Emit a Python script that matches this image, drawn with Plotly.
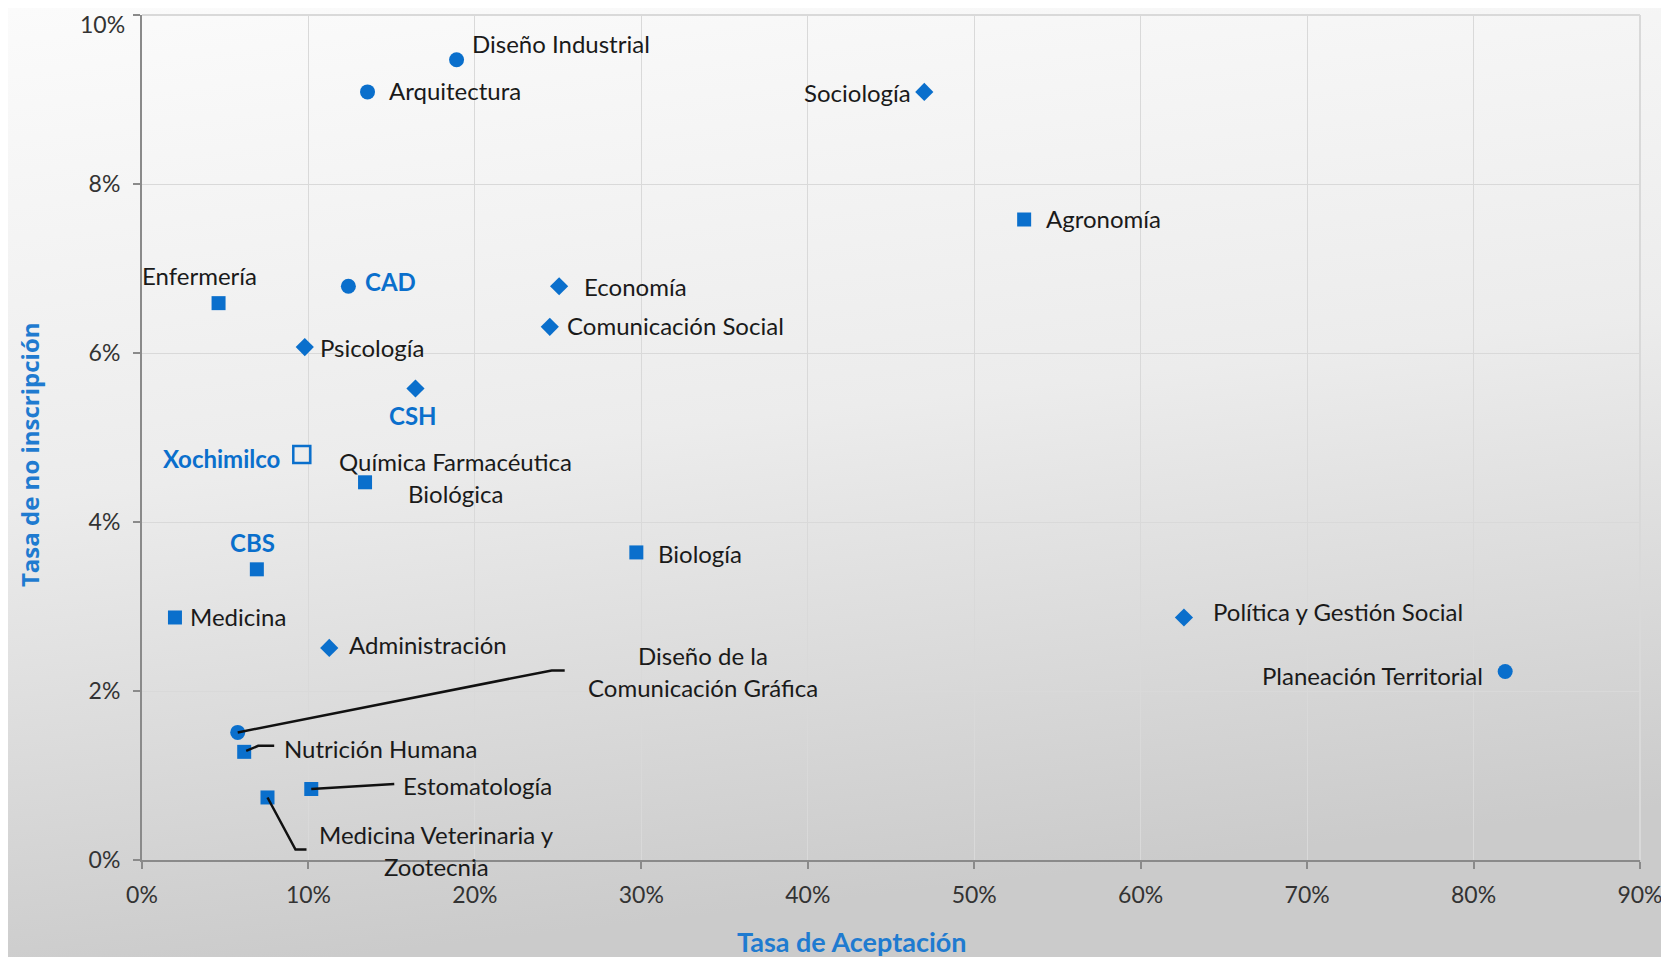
import base64
import plotly.graph_objects as go

# Datos (Tasa de Aceptación vs Tasa de no inscripción)
carreras = [
    "Diseño Industrial", "Arquitectura", "CAD", "Diseño de la Comunicación Gráfica",
    "Planeación Territorial",
    "Sociología", "Economía", "Comunicación Social", "Psicología", "CSH",
    "Administración", "Política y Gestión Social",
    "Agronomía", "Enfermería", "Química Farmacéutica Biológica", "Biología", "CBS",
    "Medicina", "Nutrición Humana", "Estomatología", "Medicina Veterinaria y Zootecnia",
    "Xochimilco",
]
tasa_aceptacion = [
    0.189, 0.1355, 0.124, 0.0575, 0.819,
    0.470, 0.2506, 0.245, 0.0978, 0.1643, 0.1125, 0.626,
    0.530, 0.046, 0.134, 0.297, 0.069, 0.0198, 0.0614, 0.1017, 0.0754,
    0.096,
]
tasa_no_inscripcion = [
    0.0947, 0.0909, 0.0679, 0.0151, 0.0223,
    0.0909, 0.0679, 0.0631, 0.0607, 0.0558, 0.0251, 0.0287,
    0.0758, 0.0659, 0.0447, 0.0364, 0.0344, 0.0287, 0.0128, 0.0084, 0.0074,
    0.0480,
]
division = [
    "CAD", "CAD", "CAD", "CAD", "CAD",
    "CSH", "CSH", "CSH", "CSH", "CSH", "CSH", "CSH",
    "CBS", "CBS", "CBS", "CBS", "CBS", "CBS", "CBS", "CBS", "CBS",
    "UNIDAD",
]
resaltadas = ["CAD", "CSH", "CBS", "Xochimilco"]
ticks_x = [0, 0.1, 0.2, 0.3, 0.4, 0.5, 0.6, 0.7, 0.8, 0.9]
ticks_y = [0, 0.02, 0.04, 0.06, 0.08, 0.1]
etiquetas_y = ["0%", "2%", "4%", "6%", "8%", "10%"]

AZUL = "#0A6FCC"
GRID = "#d9d9d9"
simbolos = {"CAD": ("circle", 15), "CSH": ("diamond", 14), "CBS": ("square", 14),
            "UNIDAD": ("square-open", 17)}

# texto mostrado y colocación de cada etiqueta (anclaje, dx px, dy px de la 1a línea)
texto = {
    "Química Farmacéutica Biológica": ["Química Farmacéutica", "Biológica"],
    "Diseño de la Comunicación Gráfica": ["Diseño de la", "Comunicación Gráfica"],
    "Medicina Veterinaria y Zootecnia": ["Medicina Veterinaria y", "Zootecnia"],
}
colocacion = {
    "Diseño Industrial": ("left", 13, 16),
    "Arquitectura": ("left", 19, 1),
    "CAD": ("left", 15, 5),
    "Diseño de la Comunicación Gráfica": ("center", 465, 77),
    "Planeación Territorial": ("right", -20, -4),
    "Sociología": ("right", -11, -1),
    "Economía": ("left", 23, 0),
    "Comunicación Social": ("left", 15, 1),
    "Psicología": ("left", 13, 0),
    "CSH": ("center", -2, -27),
    "Administración": ("left", 18, 3),
    "Política y Gestión Social": ("left", 27, 6),
    "Agronomía": ("left", 20, 1),
    "Enfermería": ("center", -19, 28),
    "Química Farmacéutica Biológica": ("center", 90, 21),
    "Biología": ("left", 20, -1),
    "CBS": ("center", -4, 27),
    "Medicina": ("left", 13, 1),
    "Nutrición Humana": ("left", 38, 3),
    "Estomatología": ("left", 90, 4),
    "Medicina Veterinaria y Zootecnia": ("center", 169, -37),
    "Xochimilco": ("right", -20, -4),
}
lineas_guia = {
    "Diseño de la Comunicación Gráfica": "M0,0 L314,62 L327,62",
    "Nutrición Humana": "M2,1 L14,6 L30,6",
    "Estomatología": "M0,0 L83,5",
    "Medicina Veterinaria y Zootecnia": "M0,0 L28,-52 L39,-52",
}

fig = go.Figure()

for div in ["CAD", "CSH", "CBS", "UNIDAD"]:
    idx = [i for i, d in enumerate(division) if d == div]
    sym, size = simbolos[div]
    fig.add_trace(go.Scatter(
        x=[tasa_aceptacion[i] for i in idx],
        y=[tasa_no_inscripcion[i] for i in idx],
        text=[carreras[i] for i in idx],
        mode="markers", name=div,
        marker=dict(symbol=sym, size=size, color=AZUL,
                    line=dict(width=2.5 if div == "UNIDAD" else 0, color=AZUL)),
        hovertemplate="%{text}<br>Aceptación %{x:.1%}<br>No inscripción %{y:.1%}<extra></extra>",
    ))

for i, nombre in enumerate(carreras):
    anchor, dx, dy = colocacion[nombre]
    bold = nombre in resaltadas
    for k, linea in enumerate(texto.get(nombre, [nombre])):
        fig.add_annotation(
            x=tasa_aceptacion[i], y=tasa_no_inscripcion[i], xref="x", yref="y",
            text=f"<b>{linea}</b>" if bold else linea, showarrow=False,
            xanchor=anchor, yanchor="middle", xshift=dx, yshift=dy - 32 * k,
            font=dict(family="Lato", size=24,
                      color=AZUL if bold else "#1a1a1a"),
        )
    if nombre in lineas_guia:
        fig.add_shape(
            type="path", path=lineas_guia[nombre], xref="x", yref="y",
            xsizemode="pixel", ysizemode="pixel",
            xanchor=tasa_aceptacion[i], yanchor=tasa_no_inscripcion[i],
            line=dict(color="#111111", width=2.5),
        )

# bordes superior y derecho del área (plotly omite la rejilla en los extremos)
fig.add_shape(type="line", xref="paper", yref="paper", x0=0, x1=1, y0=1, y1=1,
              line=dict(color=GRID, width=2), layer="below")
fig.add_shape(type="line", xref="paper", yref="paper", x0=1, x1=1, y0=0, y1=1,
              line=dict(color=GRID, width=2), layer="below")

# la página deja 8 px de margen: la figura se reduce y desplaza en consecuencia
W, H = 1661, 949
ML, MR, MT, MB = 134, 29, 7, 97
pw, ph = W - ML - MR, H - MT - MB

# la etiqueta superior del eje y se baja un poco para que no quede cortada
fig.add_annotation(text=etiquetas_y[-1], xref="paper", yref="paper", x=0, y=1 + MT / ph,
                   xanchor="right", yanchor="top", xshift=-15, showarrow=False,
                   font=dict(family="Lato", size=23, color="#333333"))

# títulos de ejes
fig.add_annotation(text="<b>Tasa de Aceptación</b>", xref="paper", yref="paper",
                   x=0.474, y=-0.096, showarrow=False, xanchor="center", yanchor="middle",
                   font=dict(family="Lato", size=27, color="#1F7BD0"))
fig.add_annotation(text="<b>Tasa de no inscripción</b>", xref="paper", yref="paper",
                   x=-0.075, y=0.48, showarrow=False, textangle=-90,
                   xanchor="center", yanchor="middle",
                   font=dict(family="Open Sans", size=24, color="#1F7BD0"))

svg = ('<svg xmlns="http://www.w3.org/2000/svg" width="100" height="100" viewBox="0 0 100 100" '
       'preserveAspectRatio="none"><defs><linearGradient id="g" x1="0" y1="0" x2="0.2" y2="1">'
       '<stop offset="0" stop-color="#fbfbfb"/><stop offset="0.5" stop-color="#ececec"/>'
       '<stop offset="1" stop-color="#cbcbcb"/></linearGradient></defs>'
       '<rect width="100" height="100" fill="url(#g)"/></svg>')
fig.add_layout_image(
    source="data:image/svg+xml;base64," + base64.b64encode(svg.encode()).decode(),
    xref="paper", yref="paper", x=-ML / pw, y=1 + MT / ph, sizex=W / pw, sizey=H / ph,
    xanchor="left", yanchor="top", sizing="stretch", layer="below",
)

fig.update_layout(
    width=W, height=H, margin=dict(l=ML, r=MR, t=MT, b=MB),
    showlegend=False, paper_bgcolor="#e9e9e9", plot_bgcolor="rgba(0,0,0,0)",
    font=dict(family="Lato", color="#333333"),
)
fig.update_xaxes(
    range=[0, 0.900001], tickvals=ticks_x, tickformat=".0%", showgrid=True,
    gridcolor=GRID, gridwidth=1, zeroline=False, showline=True,
    linecolor="#8a8a8a", linewidth=2, ticks="outside", ticklen=7, tickwidth=2,
    tickcolor="#8a8a8a", automargin=False, ticklabelstandoff=6,
    ticklabeloverflow="allow",
    tickfont=dict(family="Lato", size=23, color="#333333"),
)
fig.update_yaxes(
    range=[0, 0.100001], tickvals=ticks_y, ticktext=etiquetas_y[:-1] + [""],
    showgrid=True, gridcolor=GRID, gridwidth=1, zeroline=False, showline=True,
    linecolor="#8a8a8a", linewidth=2, ticks="outside", ticklen=7, tickwidth=2,
    tickcolor="#8a8a8a", automargin=False, ticklabelstandoff=8,
    ticklabeloverflow="allow",
    tickfont=dict(family="Lato", size=23, color="#333333"),
)

fig.write_html("out.html")
